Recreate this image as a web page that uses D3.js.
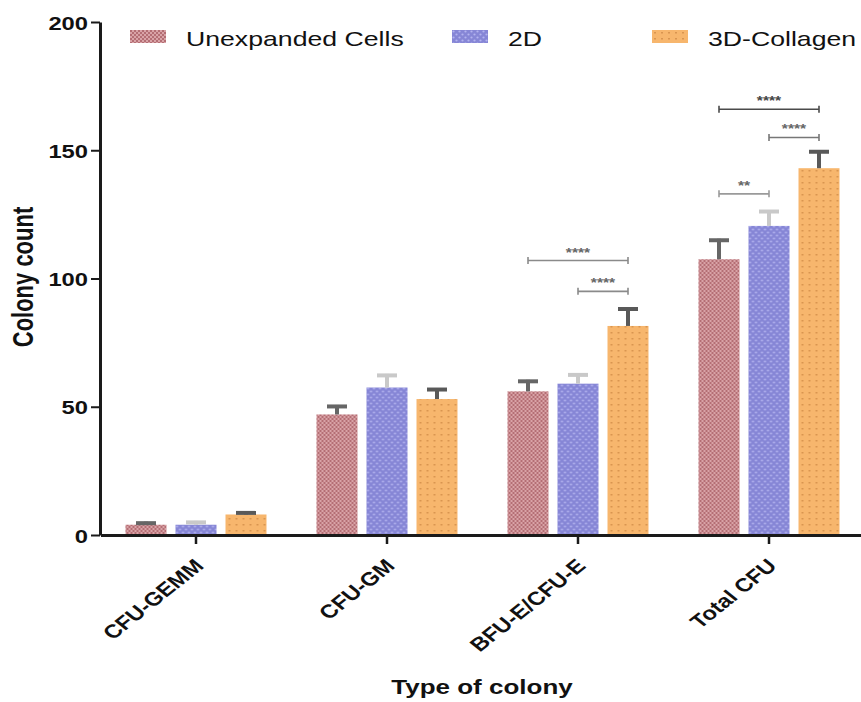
<!DOCTYPE html>
<html><head><meta charset="utf-8">
<script src="https://cdn.jsdelivr.net/npm/d3@7"></script>
<style>
html,body{margin:0;padding:0;background:#fff;}
svg{display:block;font-family:"Liberation Sans",Arial,Helvetica,sans-serif;}
</style></head>
<body><svg id="chart" width="861" height="702"></svg>
<script>
const categories = ["CFU-GEMM", "CFU-GM", "BFU-E/CFU-E", "Total CFU"];
const seriesNames = ["Unexpanded Cells", "2D", "3D-Collagen"];
const unexpandedValues = [4, 47, 56, 107.5];
const unexpandedErrors = [1.2, 3.7, 4.5, 8];
const twoDValues = [4, 57.5, 59, 120.5];
const twoDErrors = [1.5, 5.3, 4, 6.2];
const collagenValues = [8, 53, 81.5, 143];
const collagenErrors = [1.2, 4.3, 7.2, 7];
const yTicks = [0, 50, 100, 150, 200];
// significance brackets: category, from series index, to series index, y level, label
const brackets = [
  {cat: "BFU-E/CFU-E", from: 0, to: 2, y: 107, label: "****"},
  {cat: "BFU-E/CFU-E", from: 1, to: 2, y: 95, label: "****"},
  {cat: "Total CFU", from: 0, to: 2, y: 166, label: "****"},
  {cat: "Total CFU", from: 1, to: 2, y: 155, label: "****"},
  {cat: "Total CFU", from: 0, to: 1, y: 133, label: "**"}
];

const seriesValues = [unexpandedValues, twoDValues, collagenValues];
const seriesErrors = [unexpandedErrors, twoDErrors, collagenErrors];
const fills = ["url(#pUnexp)", "url(#p2D)", "url(#p3D)"];
const errColors = ["#666666", "#c9c9c9", "#595959"];
const bracketColors = ["#8a8a8a", "#8a8a8a", "#4a4a4a", "#777777", "#9a9a9a"];
const SX = 1.3; // horizontal stretch of the original picture

const svg = d3.select("#chart");
const defs = svg.append("defs");
// patterns
const p1 = defs.append("pattern").attr("id", "pUnexp").attr("patternUnits", "userSpaceOnUse").attr("width", 4).attr("height", 4);
p1.append("rect").attr("width", 4).attr("height", 4).attr("fill", "#b46e74");
p1.append("rect").attr("x", 0).attr("y", 0).attr("width", 2).attr("height", 2).attr("fill", "#d9a3a7");
p1.append("rect").attr("x", 2).attr("y", 2).attr("width", 2).attr("height", 2).attr("fill", "#d9a3a7");
const p2 = defs.append("pattern").attr("id", "p2D").attr("patternUnits", "userSpaceOnUse").attr("width", 6).attr("height", 6);
p2.append("rect").attr("width", 6).attr("height", 6).attr("fill", "#8686d6");
p2.append("circle").attr("cx", 1.5).attr("cy", 1.5).attr("r", 1.1).attr("fill", "#b3b3ef");
p2.append("circle").attr("cx", 4.5).attr("cy", 4.5).attr("r", 1.1).attr("fill", "#b3b3ef");
const p3 = defs.append("pattern").attr("id", "p3D").attr("patternUnits", "userSpaceOnUse").attr("width", 7).attr("height", 6);
p3.append("rect").attr("width", 7).attr("height", 6).attr("fill", "#f7b66d");
p3.append("rect").attr("x", 2).attr("y", 2).attr("width", 2).attr("height", 1.5).attr("fill", "#d99550");

const y = d3.scaleLinear().domain([0, 200]).range([535, 22]);
const x0 = d3.scaleBand().domain(categories).range([100.5, 864.5]).padding(0);
const x1 = d3.scaleBand().domain(d3.range(seriesNames.length)).range([20.5, 170.5]).paddingInner(0.18).paddingOuter(0.09);

// bars
const groups = svg.append("g").selectAll("g").data(categories).join("g")
  .attr("transform", d => `translate(${x0(d)},0)`);
groups.each(function(cat, ci) {
  const g = d3.select(this);
  seriesNames.forEach((s, si) => {
    const v = seriesValues[si][ci], e = seriesErrors[si][ci];
    const bx = x1(si), bw = x1.bandwidth(), cx = bx + bw / 2;
    g.append("rect").attr("x", bx).attr("y", y(v)).attr("width", bw).attr("height", y(0) - y(v)).attr("fill", fills[si]);
    g.append("line").attr("x1", cx).attr("x2", cx).attr("y1", y(v)).attr("y2", y(v + e))
      .attr("stroke", errColors[si]).attr("stroke-width", 4);
    g.append("line").attr("x1", cx - 10).attr("x2", cx + 10).attr("y1", y(v + e) + 1.5).attr("y2", y(v + e) + 1.5)
      .attr("stroke", errColors[si]).attr("stroke-width", 4);
  });
});

// brackets
brackets.forEach((b, i) => {
  const xa = x0(b.cat) + x1(b.from) + x1.bandwidth() / 2;
  const xb = x0(b.cat) + x1(b.to) + x1.bandwidth() / 2;
  const yy = y(b.y);
  const g = svg.append("g").attr("stroke", bracketColors[i]).attr("stroke-width", 1.6);
  g.append("line").attr("x1", xa).attr("x2", xb).attr("y1", yy).attr("y2", yy);
  g.append("line").attr("x1", xa).attr("x2", xa).attr("y1", yy - 3.5).attr("y2", yy + 3.5);
  g.append("line").attr("x1", xb).attr("x2", xb).attr("y1", yy - 3.5).attr("y2", yy + 3.5);
  svg.append("text").attr("transform", `translate(${(xa + xb) / 2},${yy - 4}) scale(${SX},1)`)
    .attr("text-anchor", "middle").attr("font-size", 12).attr("font-weight", "bold")
    .attr("fill", i === 2 ? "#444" : "#666").text(b.label);
});

// y axis
const yAxis = svg.append("g").attr("transform", "translate(100,0)")
  .call(d3.axisLeft(y).tickValues(yTicks).tickSize(9).tickSizeOuter(0).tickPadding(0));
yAxis.select(".domain").attr("stroke", "#1a1a1a").attr("stroke-width", 3);
yAxis.selectAll(".tick line").attr("stroke", "#1a1a1a").attr("stroke-width", 2);
yAxis.selectAll(".tick text").attr("x", null).attr("dy", null)
  .attr("transform", `translate(-12,7) scale(1.25,1)`)
  .attr("font-size", 19).attr("font-weight", "bold").attr("fill", "#111")
  .attr("font-family", "'Liberation Sans',Arial,sans-serif");

// x axis
const xAxis = svg.append("g").attr("transform", "translate(0,535)")
  .call(d3.axisBottom(x0).tickSize(9).tickSizeOuter(0).tickPadding(0));
xAxis.select(".domain").attr("stroke", "#1a1a1a").attr("stroke-width", 3);
xAxis.selectAll(".tick line").attr("stroke", "#1a1a1a").attr("stroke-width", 2.5);
xAxis.selectAll(".tick text").attr("y", null).attr("dy", null)
  .attr("text-anchor", "end")
  .attr("transform", `translate(9,32) scale(1.25,1) rotate(-45)`)
  .attr("font-size", 19).attr("font-weight", "bold").attr("fill", "#111")
  .attr("font-family", "'Liberation Sans',Arial,sans-serif");

// axis titles
svg.append("text").attr("transform", `translate(482,694) scale(${SX},1)`)
  .attr("text-anchor", "middle").attr("font-size", 20).attr("font-weight", "bold").attr("fill", "#111")
  .text("Type of colony");
svg.append("text").attr("transform", `translate(33,277) scale(${SX},1) rotate(-90)`)
  .attr("text-anchor", "middle").attr("font-size", 22).attr("font-weight", "bold").attr("fill", "#111")
  .text("Colony count");

// legend
const legendX = [130, 452, 652];
const legend = svg.append("g").selectAll("g").data(seriesNames).join("g")
  .attr("transform", (d, i) => `translate(${legendX[i]},0)`);
legend.append("rect").attr("x", 0).attr("y", 30).attr("width", 36).attr("height", 13)
  .attr("fill", (d, i) => fills[i]);
legend.append("text").attr("transform", `translate(56,46) scale(${SX},1)`)
  .attr("font-size", 20.5).attr("fill", "#111").text(d => d);
</script></body></html>
